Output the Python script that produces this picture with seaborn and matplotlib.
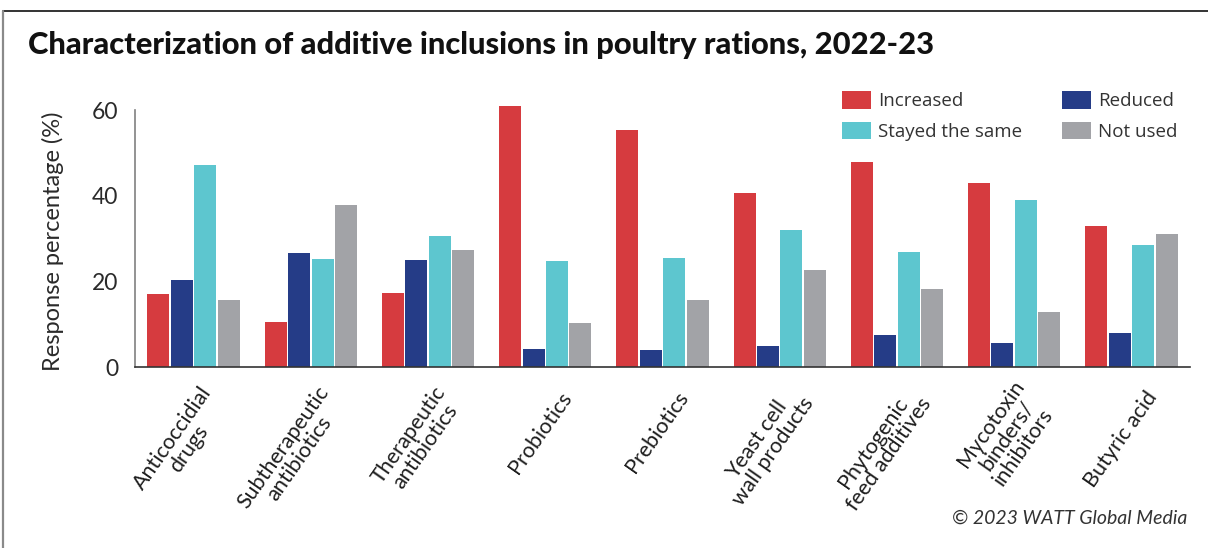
import matplotlib
matplotlib.use("Agg")
import matplotlib.pyplot as plt
from matplotlib.lines import Line2D
from matplotlib.transforms import ScaledTranslation
import seaborn as sns
import pandas as pd

# Additive categories (x axis) and response shares (%) per answer
categories = [
    "Anticoccidial\ndrugs",
    "Subtherapeutic\nantibiotics",
    "Therapeutic\nantibiotics",
    "Probiotics",
    "Prebiotics",
    "Yeast cell\nwall products",
    "Phytogenic\nfeed additives",
    "Mycotoxin\nbinders/\ninhibitors",
    "Butyric acid",
]
responses = ["Increased", "Reduced", "Stayed the same", "Not used"]
increased = [17.0, 10.5, 17.3, 60.9, 55.3, 40.6, 47.9, 43.0, 32.9]
reduced = [20.3, 26.6, 25.0, 4.2, 4.0, 4.9, 7.5, 5.6, 7.9]
stayed_same = [47.2, 25.2, 30.6, 24.7, 25.4, 32.0, 26.9, 39.0, 28.5]
not_used = [15.6, 37.8, 27.3, 10.3, 15.6, 22.6, 18.2, 12.8, 31.1]
y_ticks = [0, 20, 40, 60]

colors = ["#D63B3F", "#253C87", "#5DC6CF", "#A2A3A7"]

series = [increased, reduced, stayed_same, not_used]
df = pd.DataFrame(
    [
        {"category": c, "response": r, "value": v}
        for r, vals in zip(responses, series)
        for c, v in zip(categories, vals)
    ]
)

sns.set_theme(style="white")
plt.rcParams["font.family"] = ["Lato", "DejaVu Sans"]

W, H = 1208, 548
fig = plt.figure(figsize=(W / 100, H / 100), dpi=100)
ax = fig.add_axes([135 / W, 1 - 367 / H, 1055 / W, 265.5 / H])

sns.barplot(
    data=df, x="category", y="value", hue="response",
    order=categories, hue_order=responses, palette=colors,
    width=0.8, gap=0.06, saturation=1, linewidth=0, ax=ax,
)

ax.set_xlim(-0.5, len(categories) - 0.5)
ax.set_ylim(0, 62)
ax.set_yticks(y_ticks)
ax.set_yticklabels([str(t) for t in y_ticks], fontsize=16.5, color="#2a2a2a")
ax.tick_params(axis="y", length=0, pad=12)
ax.tick_params(axis="x", length=0, pad=19.4)

ax.set_xlabel("")
ax.set_ylabel("Response percentage (%)", fontsize=17, color="#2a2a2a")
ax.yaxis.set_label_coords(-0.0672, 0.4746)

for s in ["top", "right"]:
    ax.spines[s].set_visible(False)
ax.spines["left"].set_color("#808080")
ax.spines["left"].set_linewidth(1.2)
ax.spines["left"].set_bounds(0, 60)
ax.spines["bottom"].set_color("#333333")
ax.spines["bottom"].set_linewidth(1.2)

ax.set_xticks(range(len(categories)))
ax.set_xticklabels(
    categories, rotation=55, ha="right", va="center",
    rotation_mode="anchor", multialignment="center",
    fontsize=15.5, linespacing=1.0, color="#1e1e1e",
)
shift = ScaledTranslation(22 / 100, 0, fig.dpi_scale_trans)
for lbl in ax.get_xticklabels():
    lbl.set_transform(lbl.get_transform() + shift)

# Legend: two columns, Increased / Stayed the same, then Reduced / Not used
handles, labels = ax.get_legend_handles_labels()
ax.get_legend().remove()
order = [0, 2, 1, 3]
fig.legend(
    [handles[i] for i in order], [labels[i] for i in order],
    loc="upper left", bbox_to_anchor=(842 / W, 1 - 91 / H),
    ncol=2, frameon=False, borderpad=0, borderaxespad=0,
    handlelength=1.55, handleheight=1.07, handletextpad=0.38,
    columnspacing=2.1, labelspacing=0.62,
    prop={"family": ["Open Sans", "DejaVu Sans"], "size": 13.5},
    labelcolor="#333333",
)

fig.text(
    28 / W, 1 - 54 / H,
    "Characterization of additive inclusions in poultry rations, 2022-23",
    fontsize=22.2, fontweight="black", va="baseline", ha="left",
    family=["Lato", "DejaVu Sans"], color="#111111",
)

fig.text(
    1187 / W, 1 - 518 / H, "\u00a9 2023 WATT Global Media",
    fontsize=14, fontstyle="italic",
    ha="right", va="center", color="#333333",
)

# Page frame: top rule and left rule
fig.add_artist(Line2D([3 / W, 1], [1 - 10.5 / H, 1 - 10.5 / H],
                      transform=fig.transFigure, color="#333333", lw=1.4))
fig.add_artist(Line2D([3 / W, 3 / W], [0, 1 - 10.5 / H],
                      transform=fig.transFigure, color="#8a8a8a", lw=1.6))

fig.savefig("out.png", dpi=100)
